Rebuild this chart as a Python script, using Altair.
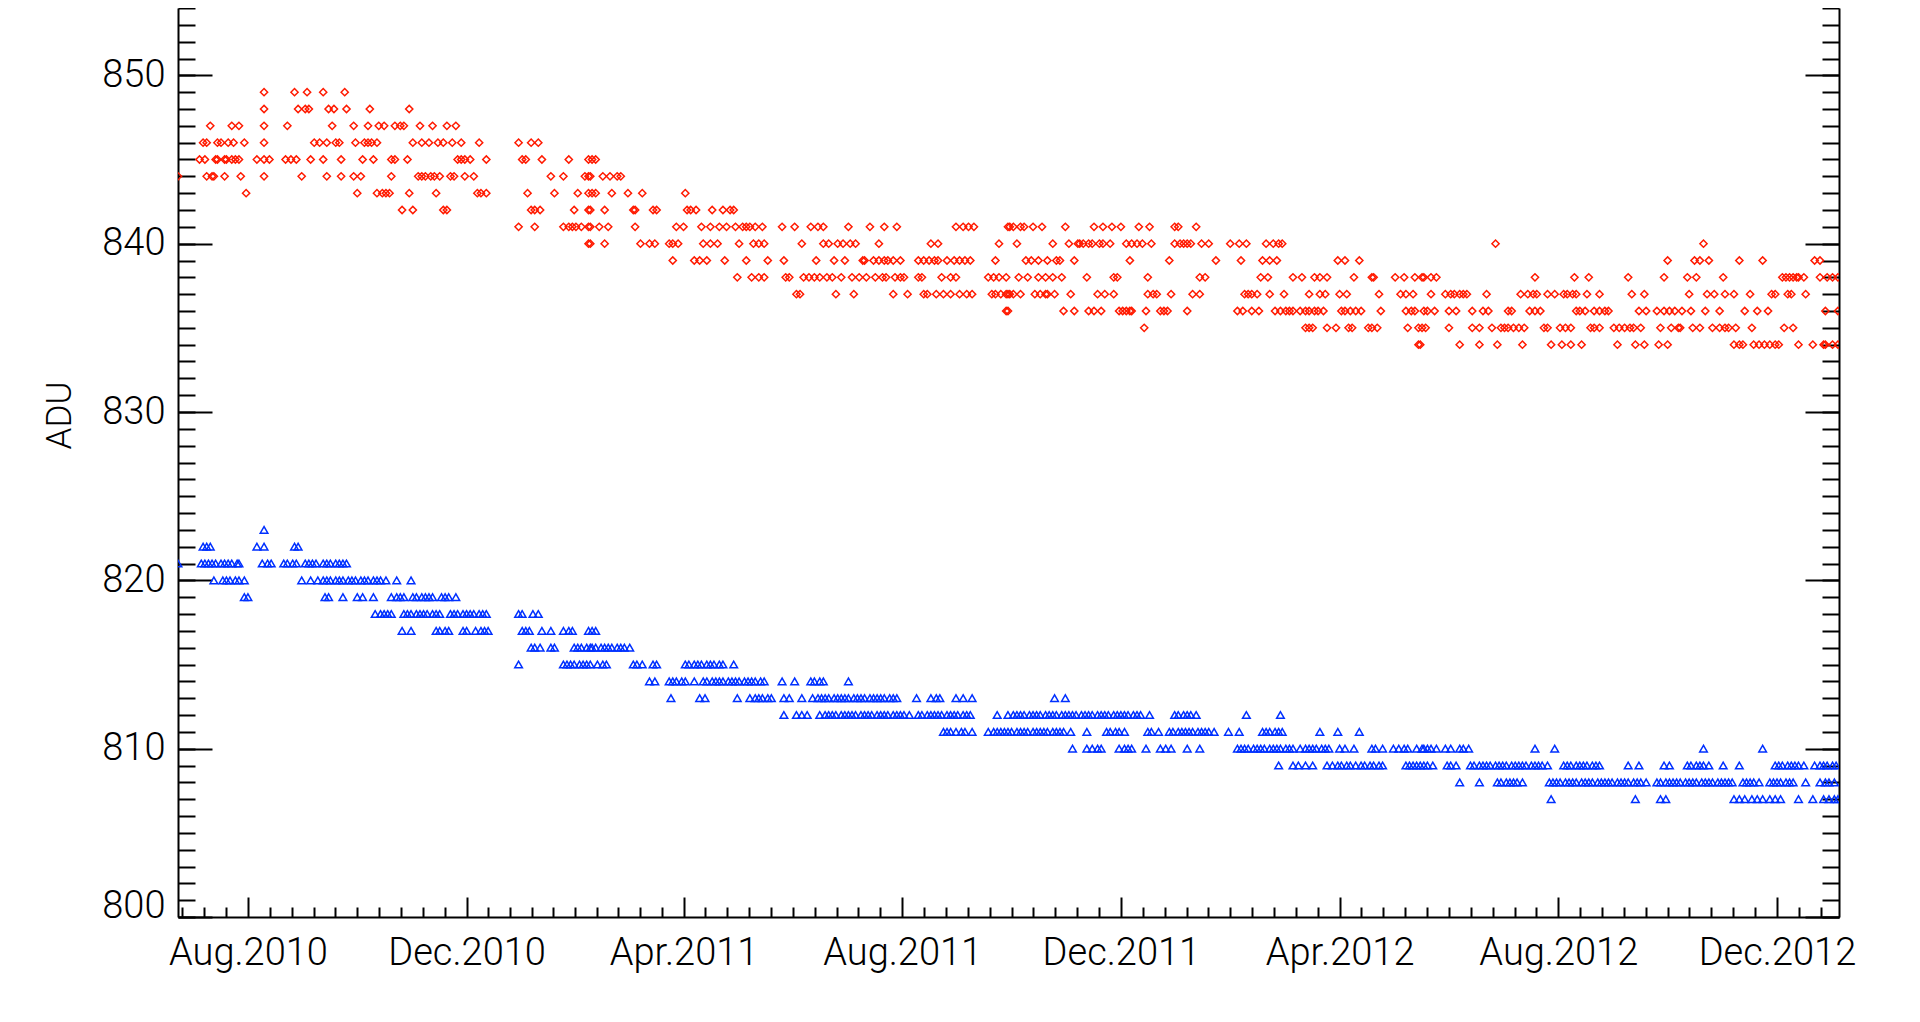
import altair as alt
import pandas as pd
from datetime import date

# ---------------- data (day number counted from 2010-06-23, ADU level) ----------------
BASE_DATE = date(2010, 6, 23)

RED_DAYS_BY_ADU = {
    849: [48, 65, 72, 81, 93],
    848: [48, 67, 71, 73, 84, 87, 94, 107, 129],
    847: [18, 30, 34, 48, 61, 86, 98, 106, 112, 115, 121, 124, 126, 135, 142, 150, 155],
    846: [14, 16, 22, 24, 28, 31, 37, 48, 76, 79, 83, 88, 90, 99, 104, 106, 108, 111, 131, 136,
          140, 145, 148, 153, 158, 168, 190, 197, 201],
    845: [12, 15, 21, 22, 26, 27, 30, 32, 34, 44, 48, 51, 60, 63, 66, 74, 81, 91, 103, 109, 119,
          121, 128, 156, 158, 160, 163, 172, 192, 194, 203, 218, 229, 231, 233],
    844: [0, 16, 19, 20, 26, 35, 48, 69, 83, 91, 98, 102, 119, 134, 136, 138, 141, 143, 146, 152,
          154, 160, 165, 208, 215, 227, 229, 230, 237, 241, 245, 247],
    843: [38, 100, 111, 114, 116, 118, 129, 144, 167, 169, 172, 195, 210, 223, 229, 231, 233, 242,
          251, 259, 283],
    842: [125, 131, 148, 150, 197, 199, 202, 221, 229, 230, 238, 254, 255, 265, 267, 284, 286, 289,
          298, 304, 308, 310],
    841: [190, 199, 215, 218, 220, 222, 225, 229, 230, 235, 240, 255, 278, 282, 292, 297, 302, 306,
          311, 315, 317, 319, 322, 326, 337, 344, 353, 357, 360, 374, 386, 394, 401, 434, 438, 441,
          444, 463, 464, 466, 470, 472, 477, 482, 495, 511, 516, 521, 526, 536, 542, 556, 558, 568],
    840: [229, 230, 238, 258, 263, 266, 274, 276, 279, 293, 297, 301, 313, 321, 324, 327, 348, 360,
          363, 368, 371, 375, 378, 391, 420, 424, 458, 468, 488, 497, 502, 503, 505, 508, 510, 514,
          516, 520, 529, 532, 535, 538, 543, 556, 559, 561, 563, 565, 571, 575, 587, 592, 596, 607,
          611, 614, 616, 735, 851],
    839: [276, 288, 291, 295, 305, 317, 329, 338, 356, 366, 372, 382, 383, 388, 391, 394, 396, 399,
          403, 413, 416, 419, 422, 424, 429, 433, 436, 439, 442, 456, 473, 476, 480, 485, 490, 492,
          500, 531, 553, 579, 593, 605, 609, 613, 647, 651, 659, 831, 846, 849, 854, 871, 884, 913,
          916],
    838: [312, 320, 324, 327, 339, 341, 349, 352, 355, 358, 362, 365, 370, 376, 380, 384, 389, 393,
          395, 400, 403, 405, 413, 415, 426, 431, 434, 452, 455, 458, 462, 469, 474, 480, 484, 488,
          493, 507, 522, 524, 541, 570, 573, 604, 608, 622, 627, 634, 637, 641, 656, 666, 667, 679,
          684, 690, 694, 695, 699, 702, 757, 779, 787, 809, 829, 842, 847, 862, 895, 897, 899, 901,
          903, 904, 907, 916, 920, 923, 926],
    837: [345, 347, 367, 377, 399, 407, 416, 418, 423, 427, 431, 436, 440, 443, 454, 456, 459, 462,
          463, 464, 466, 470, 478, 481, 484, 485, 489, 498, 513, 517, 522, 541, 544, 546, 554, 566,
          570, 595, 597, 599, 602, 609, 617, 631, 637, 640, 648, 652, 670, 682, 685, 689, 699, 707,
          710, 712, 715, 717, 719, 730, 749, 753, 756, 758, 764, 768, 773, 775, 778, 780, 786, 793,
          811, 818, 843, 853, 857, 863, 868, 877, 889, 891, 898, 900, 908],
    836: [462, 463, 494, 500, 508, 511, 515, 525, 527, 529, 531, 532, 540, 548, 550, 552, 563, 591,
          594, 599, 603, 612, 615, 618, 620, 622, 626, 629, 631, 634, 636, 639, 649, 651, 654, 657,
          660, 671, 685, 688, 690, 695, 697, 701, 709, 713, 722, 728, 731, 742, 744, 754, 757, 760,
          780, 782, 785, 790, 793, 796, 798, 815, 819, 825, 829, 832, 835, 839, 844, 852, 860, 874,
          881, 887, 919, 926],
    835: [539, 629, 631, 633, 641, 646, 653, 655, 664, 666, 669, 686, 692, 694, 696, 709, 722, 726,
          733, 738, 740, 742, 745, 748, 751, 762, 764, 771, 774, 777, 788, 790, 793, 801, 804, 807,
          810, 812, 816, 827, 833, 837, 838, 845, 849, 856, 860, 863, 865, 869, 878, 896, 901],
    834: [692, 693, 715, 726, 736, 750, 766, 772, 777, 783, 803, 813, 818, 826, 831, 868, 871, 873,
          879, 882, 885, 888, 891, 893, 904, 912, 918, 919, 923, 926],
}

BLUE_DAYS_BY_ADU = {
    823: [48],
    822: [14, 16, 18, 44, 48, 65, 67],
    821: [0, 13, 15, 17, 19, 21, 24, 26, 28, 30, 33, 34, 47, 50, 52, 59, 61, 64, 66, 71, 73, 75, 77,
          81, 83, 85, 88, 90, 92, 94],
    820: [20, 25, 27, 29, 32, 34, 37, 69, 74, 78, 81, 83, 85, 88, 90, 92, 95, 97, 99, 102, 104, 106,
          109, 111, 113, 116, 122, 130],
    819: [37, 39, 82, 84, 92, 100, 103, 109, 119, 122, 124, 126, 131, 133, 136, 138, 140, 142, 147,
          149, 151, 155],
    818: [110, 113, 115, 117, 119, 126, 128, 130, 133, 135, 137, 139, 142, 144, 146, 152, 154, 156,
          159, 161, 163, 165, 168, 170, 172, 190, 192, 198, 201],
    817: [125, 130, 144, 146, 149, 151, 159, 161, 166, 169, 171, 173, 192, 194, 196, 203, 208, 215,
          218, 220, 229, 231, 233],
    816: [197, 199, 202, 208, 210, 221, 223, 225, 228, 230, 231, 233, 236, 238, 240, 242, 245, 247,
          249, 252],
    815: [190, 215, 217, 219, 221, 224, 226, 228, 230, 234, 237, 239, 254, 256, 259, 265, 267, 283,
          285, 288, 290, 292, 295, 297, 299, 302, 304, 310],
    814: [263, 266, 274, 276, 278, 281, 283, 288, 293, 295, 298, 300, 302, 304, 307, 309, 311, 313,
          316, 318, 320, 322, 325, 327, 337, 344, 353, 355, 358, 360, 374],
    813: [275, 291, 294, 312, 319, 322, 324, 326, 329, 331, 338, 341, 348, 354, 357, 359, 361, 363,
          366, 368, 370, 372, 374, 377, 379, 381, 383, 386, 388, 390, 392, 394, 397, 399, 401, 412,
          420, 423, 425, 434, 438, 443, 489, 495],
    812: [338, 345, 348, 351, 358, 361, 363, 365, 367, 370, 372, 374, 376, 378, 381, 383, 385, 387,
          390, 392, 394, 396, 399, 401, 403, 405, 408, 413, 415, 418, 420, 422, 424, 426, 429, 431,
          433, 435, 438, 440, 442, 457, 463, 466, 468, 470, 472, 475, 477, 479, 481, 484, 486, 488,
          490, 493, 495, 497, 499, 501, 504, 506, 508, 510, 513, 515, 517, 519, 522, 524, 526, 528,
          530, 533, 535, 537, 542, 556, 558, 561, 563, 565, 568, 596, 615],
    811: [427, 429, 431, 434, 437, 439, 443, 452, 455, 457, 459, 461, 463, 465, 468, 470, 472, 474,
          477, 479, 481, 483, 485, 488, 490, 492, 494, 498, 507, 518, 520, 523, 525, 528, 541, 543,
          547, 553, 555, 558, 560, 562, 564, 566, 569, 571, 573, 575, 578, 586, 592, 605, 607, 609,
          612, 614, 616, 637, 647, 659],
    810: [499, 507, 510, 513, 515, 525, 528, 530, 532, 540, 548, 551, 554, 563, 570, 591, 593, 595,
          597, 600, 602, 604, 606, 609, 611, 613, 615, 618, 620, 622, 626, 629, 631, 633, 635, 638,
          640, 642, 648, 651, 656, 666, 668, 672, 678, 681, 684, 686, 691, 694, 695, 697, 699, 702,
          707, 710, 715, 717, 720, 757, 768, 851, 884],
    809: [614, 622, 625, 629, 633, 641, 644, 647, 649, 652, 654, 657, 660, 662, 665, 667, 670, 672,
          685, 687, 689, 691, 693, 695, 697, 700, 708, 710, 713, 721, 723, 726, 728, 730, 732, 735,
          737, 739, 741, 744, 746, 748, 750, 752, 755, 757, 759, 761, 764, 773, 775, 777, 780, 782,
          784, 786, 789, 791, 793, 809, 815, 829, 832, 842, 844, 847, 849, 851, 854, 862, 871, 891,
          893, 895, 898, 900, 902, 904, 907, 913, 916, 918, 920, 923, 925],
    808: [715, 726, 736, 738, 741, 743, 745, 747, 750, 765, 767, 769, 771, 774, 776, 778, 780, 783,
          785, 787, 789, 792, 794, 796, 798, 800, 803, 805, 807, 809, 812, 814, 816, 819, 825, 827,
          830, 832, 834, 836, 838, 841, 843, 845, 847, 850, 852, 854, 856, 859, 861, 863, 865, 867,
          873, 875, 877, 879, 882, 888, 890, 892, 894, 897, 899, 901, 908, 916, 919, 921, 924],
    807: [766, 813, 827, 830, 868, 871, 874, 878, 881, 884, 888, 891, 894, 904, 912, 918, 921, 924,
          926],
}

# axis labelled months
MAJOR_TICK_DATES = [date(2010, 8, 1), date(2010, 12, 1), date(2011, 4, 1), date(2011, 8, 1),
                    date(2011, 12, 1), date(2012, 4, 1), date(2012, 8, 1), date(2012, 12, 1)]
X_DOMAIN = [0, 926.6]
Y_DOMAIN = [800, 854]
Y_MAJOR = [800, 810, 820, 830, 840, 850]
Y_MINOR = list(range(800, 855))

# ---------------- build table ----------------
rows = []
for lvl, days in RED_DAYS_BY_ADU.items():
    for d in days:
        rows.append({"day": d, "adu": lvl, "series": "red"})
for lvl, days in BLUE_DAYS_BY_ADU.items():
    for d in days:
        rows.append({"day": d, "adu": lvl, "series": "blue"})
df = pd.DataFrame(rows)

major_days = [(d - BASE_DATE).days for d in MAJOR_TICK_DATES]
minor_days = []
step0 = (major_days[1] - major_days[0]) / 10
k = 1
while major_days[0] - k * step0 >= X_DOMAIN[0]:
    minor_days.append(major_days[0] - k * step0)
    k += 1
for a, b in zip(major_days[:-1], major_days[1:]):
    st = (b - a) / 10
    minor_days += [a + j * st for j in range(1, 10)]
stl = (major_days[-1] - major_days[-2]) / 10
k = 1
while major_days[-1] + k * stl <= X_DOMAIN[1]:
    minor_days.append(major_days[-1] + k * stl)
    k += 1

epoch_offset = (BASE_DATE - date(1970, 1, 1)).days
label_expr = f"utcFormat((datum.value + {epoch_offset}) * 86400000, '%b.%Y')"

FONT = "Roboto"
LABEL_SIZE = 38
xscale = alt.Scale(domain=X_DOMAIN, nice=False, zero=False)
yscale = alt.Scale(domain=Y_DOMAIN, nice=False, zero=False)

base = alt.Chart(df)


def ax_x(**kw):
    d = dict(orient="bottom", grid=False, title=None, labels=False, domain=False,
             tickColor="black", tickWidth=2, domainColor="black", domainWidth=2)
    d.update(kw)
    return alt.Axis(**d)


def ax_y(**kw):
    d = dict(grid=False, title=None, labels=False, domain=False,
             tickColor="black", tickWidth=2, domainColor="black", domainWidth=2)
    d.update(kw)
    return alt.Axis(**d)


red_layer = base.transform_filter(alt.datum.series == "red").mark_point(
    shape="diamond", filled=False, color="#ff1a00", strokeWidth=1.5, size=52, clip=True, opacity=1
).encode(
    x=alt.X("day:Q", scale=xscale, axis=ax_x(
        values=major_days, tickSize=20, offset=-20, labels=True, labelExpr=label_expr,
        labelFont=FONT, labelFontWeight=300, labelFontSize=LABEL_SIZE, labelColor="black",
        labelPadding=17, labelFlush=False, labelOverlap=False)),
    y=alt.Y("adu:Q", scale=yscale, axis=ax_y(
        orient="left", values=Y_MAJOR, tickSize=34, offset=-34, labels=True,
        labelFont=FONT, labelFontWeight=300, labelFontSize=LABEL_SIZE, labelColor="black",
        labelPadding=13, labelFlush=False, labelOverlap=False,
        labelBaseline={"condition": {"test": "datum.value == 800", "value": "alphabetic"},
                       "value": "middle"},
        title="ADU", titleFont=FONT, titleFontWeight=300, titleFontSize=35, titleColor="black",
        titleAngle=270, titleAlign="center", titleBaseline="middle", titleX=-153, titleY=407)),
)

blue_layer = base.transform_filter(alt.datum.series == "blue").mark_point(
    shape="triangle-up", filled=False, color="#0030ff", strokeWidth=1.5, size=58, clip=True, opacity=1
).encode(
    x=alt.X("day:Q", scale=xscale, axis=ax_x(values=minor_days, tickSize=10, offset=-10)),
    y=alt.Y("adu:Q", scale=yscale, axis=ax_y(orient="left", values=Y_MINOR, tickSize=17, offset=-17)),
)

frame1 = base.mark_point(opacity=0, clip=True).encode(
    x=alt.X("day:Q", scale=xscale, axis=ax_x(ticks=False, domain=True)),
    y=alt.Y("adu:Q", scale=yscale, axis=ax_y(orient="left", ticks=False, domain=True)),
)
frame2 = base.mark_point(opacity=0, clip=True).encode(
    x=alt.X("day:Q", scale=xscale, axis=None),
    y=alt.Y("adu:Q", scale=yscale, axis=ax_y(orient="right", values=Y_MAJOR, tickSize=34, offset=-34)),
)
frame3 = base.mark_point(opacity=0, clip=True).encode(
    x=alt.X("day:Q", scale=xscale, axis=None),
    y=alt.Y("adu:Q", scale=yscale, axis=ax_y(orient="right", values=Y_MINOR, tickSize=17, offset=-17)),
)
frame4 = base.mark_point(opacity=0, clip=True).encode(
    x=alt.X("day:Q", scale=xscale, axis=None),
    y=alt.Y("adu:Q", scale=yscale, axis=ax_y(orient="right", ticks=False, domain=True)),
)

chart = alt.layer(red_layer, blue_layer, frame1, frame2, frame3, frame4).resolve_scale(
    x="shared", y="shared"
).resolve_axis(
    x="independent", y="independent"
).properties(
    width=1661, height=909,
    autosize=alt.AutoSizeParams(type="none"),
    padding={"left": 170, "top": 0, "right": 40, "bottom": 90},
    background="white",
).configure_view(stroke=None)

chart.save("out.html", embed_options={"renderer": "svg", "actions": False})
